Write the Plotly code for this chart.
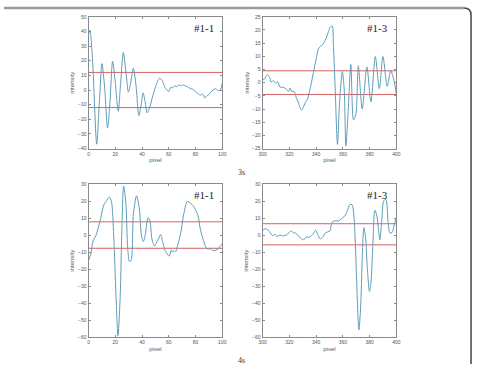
import plotly.graph_objects as go

W, H = 477, 367

# ---- data ----
p1_x = [0, 1, 3, 6.1, 8, 10, 12, 14.2, 16, 18, 20, 22.2, 24, 26, 28, 29.8, 31.5, 33.5, 35.5, 37.6, 39.3, 40.8, 42.3, 43.8,
        46, 48, 50, 53, 55, 57, 60, 61.6, 63, 64.5, 66, 67.5, 69, 70, 72, 74, 76, 78, 80, 82, 83.6, 85, 87, 88.5,
        90, 91.5, 93, 95, 97, 98.5, 100]
p1_y = [38, 40.8, 20, -37, -10, 18, 2, -26, -8, 19.7, 5, -14.5, 5, 25.6, 12, -1.4, 5, 14.8, 3, -17.5, -10, -2, -8, -15.6,
        -11, -4, 2, 8, 6.5, 2, -1, 2, 1.5, 3, 2.2, 3.5, 2.8, 3.5, 3, 2.2, 1, 0.5, -1, -2.5, -3.7, -2.5, -5.5, -4,
        -3, -1.5, 0, 0.8, -0.5, 0, 4.6]
p1_thr = [12, -12]

p2_x = [300, 301.5, 303.4, 305, 306.4, 308, 309.6, 311.3, 313, 315, 317.4, 319.4, 320.6, 321.8, 323.5, 325, 327, 329,
        330, 332, 333.3, 335.8, 338, 340, 342, 344.8, 346.8, 349.3, 350.5, 352, 353, 354.2, 356, 357.6, 359.6, 361,
        362.3, 364, 366, 368, 369.7, 371.6, 374.5, 378, 381, 384.3, 387.3, 390, 393.2, 395.8, 398.3, 400]
p2_y = [1.2, 1.4, 3, 2.4, 0.2, 0.8, -0.2, 0.4, -1.7, -1.7, -2.3, -3.3, -2, -3.5, -3.3, -5.4, -7.9, -10.4,
        -9.8, -7.5, -6.6, -1.7, 3.9, 8.9, 13.1, 14.4, 16, 19.4, 21, 21.5, 13.8, -1, -23.4, -7.3, 4.2, -2.3,
        -24, -11, 6.9, -14.1, -12.2, 6.4, -10, 6, -7.3, 9.9, -2.3, 9.9, -1.4, 4.5, 0.8, -4.5]
p2_thr = [4.5, -4.5]

p3_x = [0, 1.7, 3.4, 5.4, 8.3, 11.5, 13.2, 15.6, 17.1, 18.8, 20.5, 22, 23.7, 24.9, 26.2, 27.9, 29.3, 30.6, 31.8,
        33.5, 35.9, 37.9, 39.6, 41, 42.5, 44.5, 45.9, 47.4, 49.4, 50.9, 52.3, 53.8, 55.5, 57.2, 59.2, 60.4, 61.9,
        63, 64, 65.3, 66.5, 69, 70.9, 73.8, 75, 77.5, 79.9, 81.9, 83.6, 86, 88.5, 91, 92.7, 94.6, 97, 98.3, 100]
p3_y = [-14.8, -11, -3.3, -0.4, 7.3, 17.9, 19.8, 22.3, 19.8, -0.4, -35, -59, -35, 3.5, 28.8, 18.8, -8, -15.4, -14.8,
        12.1, 23.1, 16, -0.4, -3.8, 0.6, 10.2, 8.3, -2.3, -6.5, -4.2, -2.3, 0.4, -4.2, -9, -11.5, -12.3, -8.7,
        -10, -9, -9.6, -6.2, 1.5, 11.2, 19.8, 19.4, 17.9, 15, 11.2, 3.5, -3.3, -8, -8, -9, -9, -8, -6.5, -5.2]
p3_thr = [7.8, -7.7]

p4_x = [300, 302, 303.9, 305.9, 307.6, 309.3, 310.5, 313, 315.4, 317.9, 319.9, 321.6, 322.8, 324.8, 326.7, 328.7,
        330.9, 332.6, 334.6, 336.5, 338.2, 339.5, 341.2, 343.1, 344.9, 346.8, 348.8, 350.5, 351.7, 353.7, 356.1,
        357.8, 359.6, 361.5, 363.2, 365.2, 366.9, 368.4, 369.6, 370.8, 372, 373.3, 374.5, 375.7, 377, 378.2,
        379.9, 381.1, 382.4, 384, 385.5, 386.8, 387.7, 389, 390.7, 392.2, 393.9, 395.3, 396.8, 398.3, 400]
p4_y = [2.5, 3.8, 3.1, 1.2, -0.4, 0.6, -0.8, 0, -0.4, 0.2, 1.5, 2.5, 1.5, 1.2, -0.4, -1.9,
        -2.7, -1, -1.3, -0.4, 1.2, 2.9, 0.6, -2.3, -1.3, 1.2, 1.9, 2.5, 7.3, 8.3, 8.3,
        8.7, 10.2, 11.2, 14, 17.9, 17.9, 10.2, -10, -36.9, -55.6, -42.7, -13.8, 4.4, -1.3, -17.7,
        -33, -27.3, -7.1, 14.6, 11.2, 2.5, -2.7, 7.3, 20.4, 20.8, 7.3, 1.2, 1.5, 5.4, 10.2]
p4_thr = [6.7, -5.7]

labels = ["#1-1", "#1-3", "#1-1", "#1-3"]
x_ranges = [[0, 100], [300, 400], [0, 100], [300, 400]]
y_ranges = [[-40, 50], [-25, 25], [-60, 30], [-60, 30]]
y_dticks = [10, 5, 10, 10]
time_labels = ["3s", "4s"]

# ---- layout geometry (pixels) ----
boxes = [(86, 222, 14, 148), (263, 399, 14, 148), (86, 222, 184, 340), (263, 399, 184, 340)]

def px(x):
    return x / W

def py(y):
    return 1 - y / H

LINE_C = "#5f9db8"
RED_C = "#d05050"
AX_C = "#8a8a8a"
TXT_C = "#555555"

series = [(p1_x, p1_y, p1_thr), (p2_x, p2_y, p2_thr), (p3_x, p3_y, p3_thr), (p4_x, p4_y, p4_thr)]

fig = go.Figure()
layout = dict(width=W, height=H, margin=dict(l=0, r=0, t=0, b=0),
              paper_bgcolor="white", plot_bgcolor="white", showlegend=False)
annotations = []
shapes = []

for i, ((xs, ys, thr), (x0, x1, y0, y1)) in enumerate(zip(series, boxes)):
    n = "" if i == 0 else str(i + 1)
    xa, ya = "x" + n, "y" + n
    for t in thr:
        fig.add_trace(go.Scatter(x=x_ranges[i], y=[t, t], mode="lines", xaxis=xa, yaxis=ya,
                                 line=dict(color=RED_C, width=0.9), hoverinfo="skip"))
    fig.add_trace(go.Scatter(x=xs, y=ys, mode="lines", xaxis=xa, yaxis=ya,
                             line=dict(color=LINE_C, width=1, shape="spline", smoothing=0.8),
                             hoverinfo="skip"))
    common = dict(showline=True, linecolor=AX_C, linewidth=1, mirror="ticks", ticks="inside",
                  ticklen=2, tickcolor=AX_C, showgrid=False, zeroline=False,
                  tickfont=dict(family="Arial, Liberation Sans", size=5, color=TXT_C))
    layout["xaxis" + n] = dict(common, domain=[px(x0), px(x1)], anchor=ya, range=x_ranges[i], dtick=20,
                               title=dict(text="pixel", standoff=2,
                                          font=dict(family="Arial, Liberation Sans", size=6, color=TXT_C)))
    layout["yaxis" + n] = dict(common, domain=[py(y1), py(y0)], anchor=xa, range=y_ranges[i], dtick=y_dticks[i],
                               title=dict(text="intensity", standoff=2,
                                          font=dict(family="Arial, Liberation Sans", size=6, color=TXT_C)))
    annotations.append(dict(x=px(x1 - 6), y=py(y0 + 11), xref="paper", yref="paper", text=labels[i],
                            showarrow=False, xanchor="right", yanchor="middle",
                            font=dict(family="Liberation Serif, Times New Roman, serif", size=11, color="#222")))

for j, t in enumerate(time_labels):
    annotations.append(dict(x=px(242), y=py([172, 363][j]), xref="paper", yref="paper", text=t,
                            showarrow=False, xanchor="center", yanchor="middle",
                            font=dict(family="Liberation Serif, Times New Roman, serif", size=8, color="#333")))

# outer frame (top and right edge with rounded corner)
shapes.append(dict(type="line", xref="paper", yref="paper", x0=0, x1=px(468), y0=py(5), y1=py(5),
                   line=dict(color="#9a9a9a", width=2.5)))
shapes.append(dict(type="path", xref="paper", yref="paper",
                   path=f"M {px(468)},{py(5)} Q {px(475)},{py(5)} {px(475)},{py(12)} L {px(475)},{py(367)}",
                   line=dict(color="#444444", width=1.5)))

layout["annotations"] = annotations
layout["shapes"] = shapes
fig.update_layout(**layout)
fig.write_html("out.html")
